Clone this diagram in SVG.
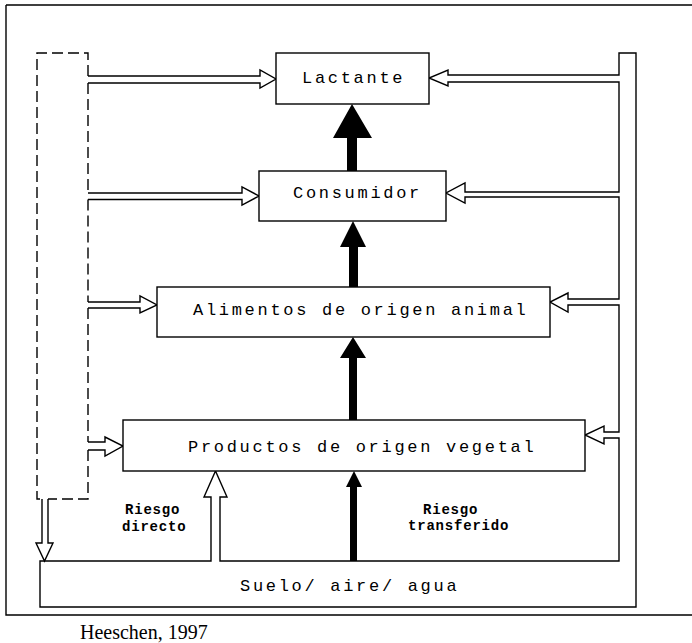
<svg xmlns="http://www.w3.org/2000/svg" width="692" height="643" viewBox="0 0 692 643">
<style>
.ln{fill:none;stroke:#000;stroke-width:1.4;stroke-linejoin:miter}
.dash{fill:none;stroke:#000;stroke-width:1.4;stroke-dasharray:11 5}
.box{fill:#fff;stroke:#000;stroke-width:1.4}
.blk{fill:#000;stroke:none}
.lbl{font-family:"Liberation Mono","Courier New",monospace;font-size:17px;letter-spacing:2.7px;fill:#000}
.sm{font-family:"Liberation Mono","Courier New",monospace;font-size:14px;font-weight:bold;letter-spacing:0.8px;fill:#000}
.cite{font-family:"Liberation Serif","Times New Roman",serif;font-size:20px;fill:#000}
</style>
<rect width="692" height="643" fill="#fff"/>
<path class="ln" d="M6,5 H692 M6,5 V615 H692"/>
<g id="connectors">
  <path class="ln" d="M220,561 H619 V438 H604 V444 L585,435 L604,426 V432 H619 V305 H568 V312 L550,302 L568,293 V299 H619 V197 H465 V203 L446,193 L465,183 V192 H619 V82 H448 V86 L429,78 L448,70 V75 H619 V53 H636 V607 H40 V561 H211 V497 H204 L215.5,471 L227,497 H220 Z"/>
  <path class="dash" d="M88,76 V53 H37 V499 H42 M88,83 V193 M88,199.5 V302 M88,308 V442 M88,450 V499 H48"/>
  <path class="ln" d="M88,76 H260 V70 L276,79 L260,88 V83 H88"/>
  <path class="ln" d="M88,193 H242 V187 L259,196 L242,205 V199.5 H88"/>
  <path class="ln" d="M88,302 H140 V296 L157,305 L140,313 V308 H88"/>
  <path class="ln" d="M88,442 H105 V437 L123,446 L105,456 V450 H88"/>
  <path class="ln" d="M42,499 V543 H36 L44.5,561 L53,543 H48 V499"/>
  <path class="blk" d="M352,104 L372,138 H357 V171 H347 V138 H333 Z"/>
  <path class="blk" d="M353,221 L366,247 H358 V287 H349 V247 H340 Z"/>
  <path class="blk" d="M353,337 L366,358 H357 V420 H349 V358 H340 Z"/>
  <path class="blk" d="M354,471 L362,487 H357 V561 H350 V487 H346 Z"/>
</g>
<g id="lactante"><rect class="box" x="276" y="53" width="153" height="51"/><text class="lbl" x="302" y="83">Lactante</text></g>
<g id="consumidor"><rect class="box" x="259" y="171" width="187" height="50"/><text class="lbl" x="293" y="198">Consumidor</text></g>
<g id="alimentos"><rect class="box" x="157" y="287" width="393" height="50"/><text class="lbl" x="193" y="315">Alimentos de origen animal</text></g>
<g id="productos"><rect class="box" x="123" y="420" width="462" height="51"/><text class="lbl" x="188" y="452">Productos de origen vegetal</text></g>
<g id="suelo"><text class="lbl" x="240" y="591">Suelo/ aire/ agua</text></g>
<g id="riesgo-directo"><text class="sm" x="125" y="514">Riesgo</text><text class="sm" x="122" y="531">directo</text></g>
<g id="riesgo-transferido"><text class="sm" x="423" y="514">Riesgo</text><text class="sm" x="408" y="530">transferido</text></g>
<text class="cite" x="80" y="639">Heeschen, 1997</text>
</svg>
